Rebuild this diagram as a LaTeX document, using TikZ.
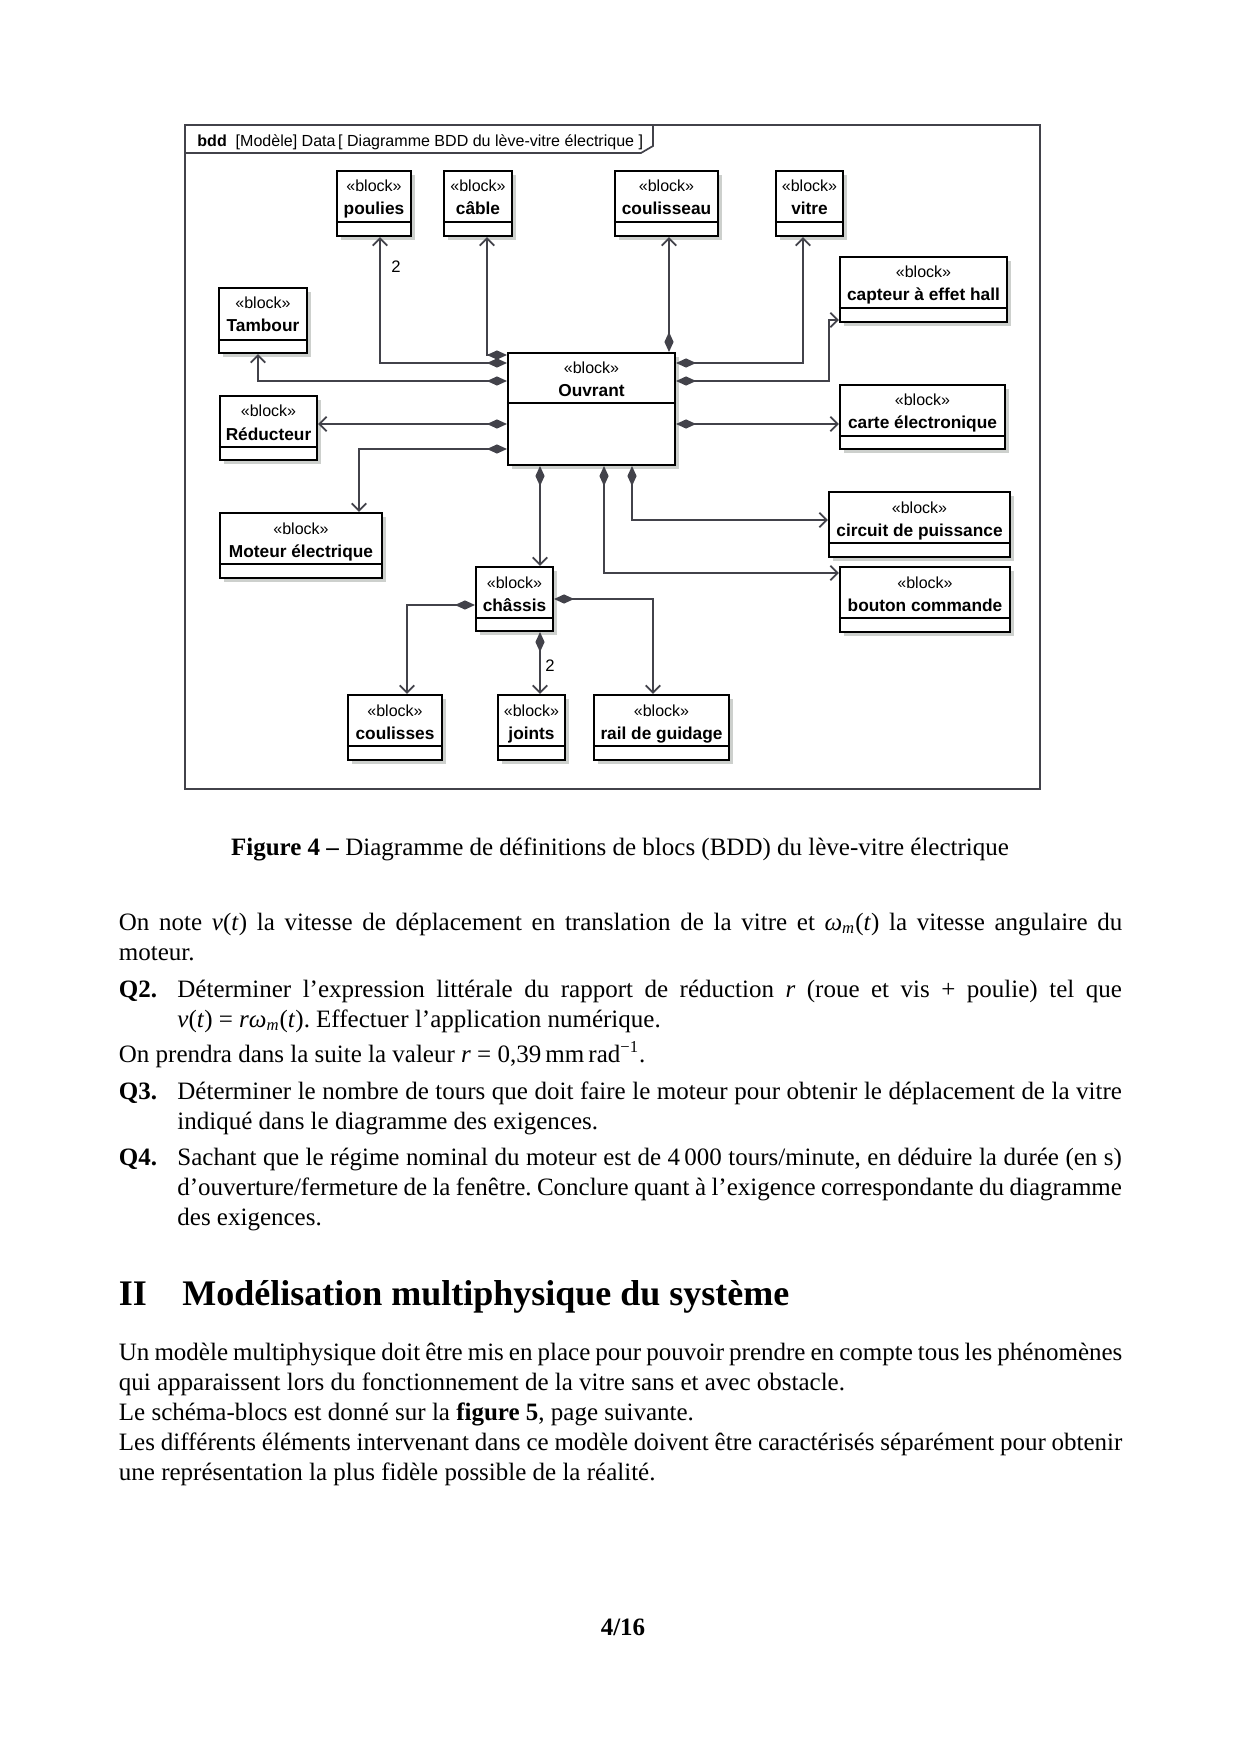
\documentclass[tikz,border=0pt]{standalone}
\usepackage{fontspec}
\setmainfont{Liberation Serif}
\newfontfamily\diag{Liberation Sans}
\usetikzlibrary{arrows.meta}
\frenchspacing
\definecolor{lc}{RGB}{66,66,74}
\definecolor{shc}{RGB}{205,208,205}
\tikzset{
 blockbox/.style={draw=black, line width=1pt, fill=white, inner sep=0pt},
 blocksep/.style={draw=black, line width=1pt},
 stereo/.style={anchor=base, inner sep=0pt, font=\diag\fontsize{7.7}{9}\selectfont},
 bname/.style={anchor=base, inner sep=0pt, font=\diag\bfseries\fontsize{8.3}{10}\selectfont},
 comp/.style={draw=lc, line width=0.9pt, {Diamond[length=9.6pt,width=4.4pt,fill=lc]}-{Straight Barb[length=3.5pt,width=7pt]}},
 body/.style={anchor=base west, inner sep=0pt, font=\fontsize{12}{14.5}\selectfont},
 ctext/.style={anchor=base, inner sep=0pt, font=\fontsize{12}{14.5}\selectfont},
 mult/.style={anchor=base, inner sep=0pt, font=\diag\fontsize{8}{10}\selectfont},
}
% #1 name, #2 x1, #3 y1, #4 x2, #5 y2, #6 separator y, #7 label
\newcommand\umlblk[7]{%
  \fill[shc] (#2+4,#3+4) rectangle (#4+4,#5+4);
  \node[blockbox, minimum width={(#4-#2)*0.48006pt}, minimum height={(#5-#3)*0.48006pt}] (#1) at ({(#2+#4)/2},{(#3+#5)/2}) {};
  \draw[blocksep] (#1.west |- 0,#6) -- (#1.east |- 0,#6);
  \node[stereo] (#1-s) at ({(#2+#4)/2},#3+21) {«block»};
  \node[bname] (#1-n) at ({(#2+#4)/2},#3+44) {#7};
}
\begin{document}
\begin{tikzpicture}[x=0.48006pt,y=-0.48006pt]
\useasboundingbox (0,0) rectangle (1240,1754);
\fill[white] (0,0) rectangle (1240,1754);

% frame
\draw[lc, line width=0.8pt] (185,125) rectangle (1040,789);
\draw[lc, line width=0.8pt] (185,153) -- (641,153) -- (653,146) -- (653,125);
\node[anchor=base west, inner sep=0pt, font=\diag\fontsize{7.7}{9}\selectfont] (title) at (197,147) {\textbf{bdd}\ \ [Modèle]\ Data\,[\ Diagramme BDD du lève-vitre électrique ]};

% blocks
\umlblk{poul}{337}{171}{411}{236}{222}{poulies}
\umlblk{cabl}{444}{171}{512}{236}{222}{câble}
\umlblk{coul}{615}{171}{718}{236}{222}{coulisseau}
\umlblk{vitr}{776}{171}{843}{236}{222}{vitre}
\umlblk{capt}{840}{257}{1007}{322}{308}{capteur à effet hall}
\umlblk{tamb}{219}{288}{307}{353}{340}{Tambour}
\umlblk{ouv}{508}{353}{675}{465}{403}{Ouvrant}
\umlblk{redu}{220}{396}{317}{460}{447}{Réducteur}
\umlblk{carte}{840}{385}{1005}{449}{436}{carte électronique}
\umlblk{mot}{220}{513}{382}{578}{564}{Moteur électrique}
\umlblk{circ}{829}{492}{1010}{557}{543}{circuit de puissance}
\umlblk{chas}{476}{567}{553}{631}{618}{châssis}
\umlblk{bout}{840}{567}{1010}{632}{618}{bouton commande}
\umlblk{couls}{348}{695}{442}{760}{746}{coulisses}
\umlblk{joint}{498}{695}{565}{760}{746}{joints}
\umlblk{rail}{594}{695}{729}{760}{746}{rail de guidage}

% connectors from Ouvrant
\draw[comp] (ouv.west |- 0,363) -| (poul.south -| 380,0);
\draw[comp] (ouv.west |- 0,355) -| (cabl.south -| 487,0);
\draw[comp] (ouv.west |- 0,381) -| (tamb.south -| 258,0);
\draw[comp] (ouv.west |- 0,424) -- (redu.east |- 0,424);
\draw[comp] (ouv.west |- 0,449) -| (mot.north -| 359,0);
\draw[comp] (ouv.south -| 540,0) -- (chas.north -| 540,0);
\draw[comp] (ouv.south -| 604,0) |- (bout.west |- 0,573);
\draw[comp] (ouv.south -| 632,0) |- (circ.west |- 0,520);
\draw[comp] (ouv.north -| 669,0) -- (coul.south -| 669,0);
\draw[comp] (ouv.east |- 0,363) -| (vitr.south -| 803,0);
\draw[comp] (ouv.east |- 0,381) -| (829,320) -- (capt.west |- 0,320);
\draw[comp] (ouv.east |- 0,424) -- (carte.west |- 0,424);
% connectors from chassis
\draw[comp] (chas.west |- 0,605) -| (couls.north -| 407,0);
\draw[comp] (chas.south -| 540,0) -- (joint.north -| 540,0);
\draw[comp] (chas.east |- 0,599) -| (rail.north -| 653,0);

\node[mult] (m1) at (396,273) {2};
\node[mult] (m2) at (550,671) {2};

% caption and text
\node[ctext] (cap) at (620,855) {\textbf{Figure 4 –} Diagramme de définitions de blocs (BDD) du lève-vitre électrique};

\node[body] (p1) at (118.5,930) {\parbox[t]{481.7pt}{On note \textit{v}(\textit{t}) la vitesse de déplacement en translation de la vitre et \textit{ω}\textsubscript{\textit{m}}(\textit{t}) la vitesse angulaire du\linebreak moteur.}};

\node[body] (q2) at (118.5,997) {\textbf{Q2.}};
\node[body] (q2t) at (177,997) {\parbox[t]{453.4pt}{Déterminer l’expression littérale du rapport de réduction \textit{r} (roue et vis + poulie) tel que \textit{v}(\textit{t})~=~\textit{rω}\textsubscript{\textit{m}}(\textit{t}). Effectuer l’application numérique.}};

\node[body] (p2) at (118.5,1062) {On prendra dans la suite la valeur \textit{r}~=~0,39\,mm\,rad\textsuperscript{−1}.};

\node[body] (q3) at (118.5,1099) {\textbf{Q3.}};
\node[body] (q3t) at (177,1099) {\parbox[t]{453.4pt}{Déterminer le nombre de tours que doit faire le moteur pour obtenir le déplacement de la vitre indiqué dans le diagramme des exigences.}};

\node[body] (q4) at (118.5,1165) {\textbf{Q4.}};
\node[body] (q4t) at (177,1165) {\parbox[t]{453.4pt}{Sachant que le régime nominal du moteur est de 4\,000 tours/minute, en déduire la durée (en s) d’ouverture/fermeture de la fenêtre. Conclure quant à l’exigence correspondante du diagramme des exigences.}};

\node[anchor=base west, inner sep=0pt, font=\bfseries\fontsize{17.28}{22}\selectfont] (h1) at (118.5,1305) {II};
\node[anchor=base west, inner sep=0pt, font=\bfseries\fontsize{17.28}{22}\selectfont] (h2) at (182,1305) {Modélisation multiphysique du système};

\node[body] (p3) at (118.5,1360) {\parbox[t]{481.7pt}{Un modèle multiphysique doit être mis en place pour pouvoir prendre en compte tous les phénomènes qui apparaissent lors du fonctionnement de la vitre sans et avec obstacle.\\
Le schéma-blocs est donné sur la \textbf{figure 5}, page suivante.\\
Les différents éléments intervenant dans ce modèle doivent être caractérisés séparément pour obtenir une représentation la plus fidèle possible de la réalité.}};

\node[ctext, font=\bfseries\fontsize{12}{14.5}\selectfont] (pg) at (623,1635) {4/16};
\end{tikzpicture}
\end{document}
